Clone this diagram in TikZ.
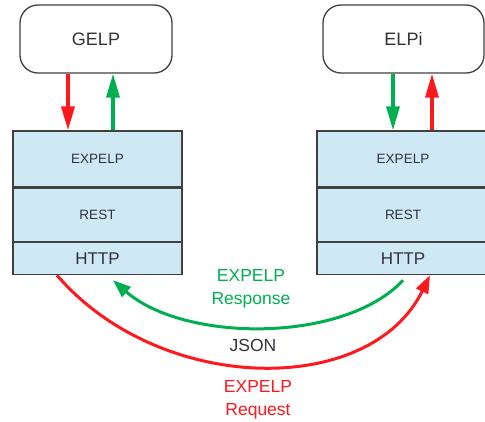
\documentclass[tikz,border=0pt]{standalone}
\usepackage{fontspec}
\setmainfont{Liberation Sans}
\usetikzlibrary{arrows.meta}
\definecolor{linkred}{RGB}{255,25,30}
\definecolor{linkgreen}{RGB}{0,176,80}
\definecolor{layerfill}{RGB}{206,232,244}
\definecolor{edgegray}{RGB}{64,64,64}
\definecolor{textgray}{RGB}{50,50,60}
\tikzset{
  app/.style={draw=edgegray, line width=1.3pt, rounded corners=18pt, fill=white,
    minimum height=68pt, inner sep=0pt, text=textgray,
    font=\fontsize{18}{21}\selectfont},
  layer/.style={draw=edgegray, line width=1.3pt, fill=layerfill,
    inner sep=0pt, text=textgray},
  small/.style={font=\fontsize{13.5}{16}\selectfont},
  big/.style={font=\fontsize{17}{20}\selectfont},
  flow/.style={line width=3.5pt, -{Triangle[length=24pt,width=13pt]}},
  arc/.style={line width=3pt, -{Triangle[length=18pt,width=13pt]}},
  lbl/.style={font=\fontsize{17.5}{23.5}\selectfont, align=center, inner sep=0pt}
}
\begin{document}
\begin{tikzpicture}[x=1pt, y=-1pt]
\useasboundingbox (0,0) rectangle (485,421);
\clip (0,0) rectangle (485,421);
\fill[white] (0,0) rectangle (485,421);

% applications
\node[app, minimum width=152pt] (gelp) at (96,39) {GELP};
\node[app, minimum width=161pt] (elpi) at (403.5,39) {ELPi};

% left protocol stack
\node[layer, small, minimum width=169pt, minimum height=56pt] (lexp) at (97.5,159) {EXPELP};
\node[layer, small, minimum width=169pt, minimum height=53pt, anchor=north] (lrest) at (lexp.south) {REST};
\node[layer, big, minimum width=169pt, minimum height=32pt, anchor=north] (lhttp) at (lrest.south) {HTTP};

% right protocol stack (runs past the right margin)
\node[layer, small, minimum width=172pt, minimum height=56pt] (rexp) at (403,159) {EXPELP};
\node[layer, small, minimum width=172pt, minimum height=53pt, anchor=north] (rrest) at (rexp.south) {REST};
\node[layer, big, minimum width=172pt, minimum height=32pt, anchor=north] (rhttp) at (rrest.south) {HTTP};

% vertical links between applications and stacks
\draw[flow, linkred] ([xshift=-28pt]gelp.south) -- ([xshift=-28pt]gelp.south |- lexp.north);
\draw[flow, linkgreen] ([xshift=17pt]gelp.south |- lexp.north) -- ([xshift=17pt]gelp.south);
\draw[flow, linkgreen] ([xshift=-10.5pt]elpi.south) -- ([xshift=-10.5pt]elpi.south |- rexp.north);
\draw[flow, linkred] ([xshift=28.5pt]elpi.south |- rexp.north) -- ([xshift=28.5pt]elpi.south);

% request and response over HTTP
\draw[arc, linkgreen] ([xshift=0pt,yshift=-5pt]rhttp.south)
  .. controls (345,343) and (185,343) .. ([xshift=-290pt,yshift=-5pt]rhttp.south);
\draw[arc, linkred] ([xshift=-40.5pt]lhttp.south)
  .. controls (160,395) and (370,398) .. ([xshift=27pt]rhttp.south);

% labels
\node[lbl, text=linkgreen] (resp) at (251,289) {EXPELP\\Response};
\node[lbl, text=textgray] (json) at (253,345) {JSON};
\node[lbl, text=linkred] (req) at (258,400) {EXPELP\\Request};
\end{tikzpicture}
\end{document}
